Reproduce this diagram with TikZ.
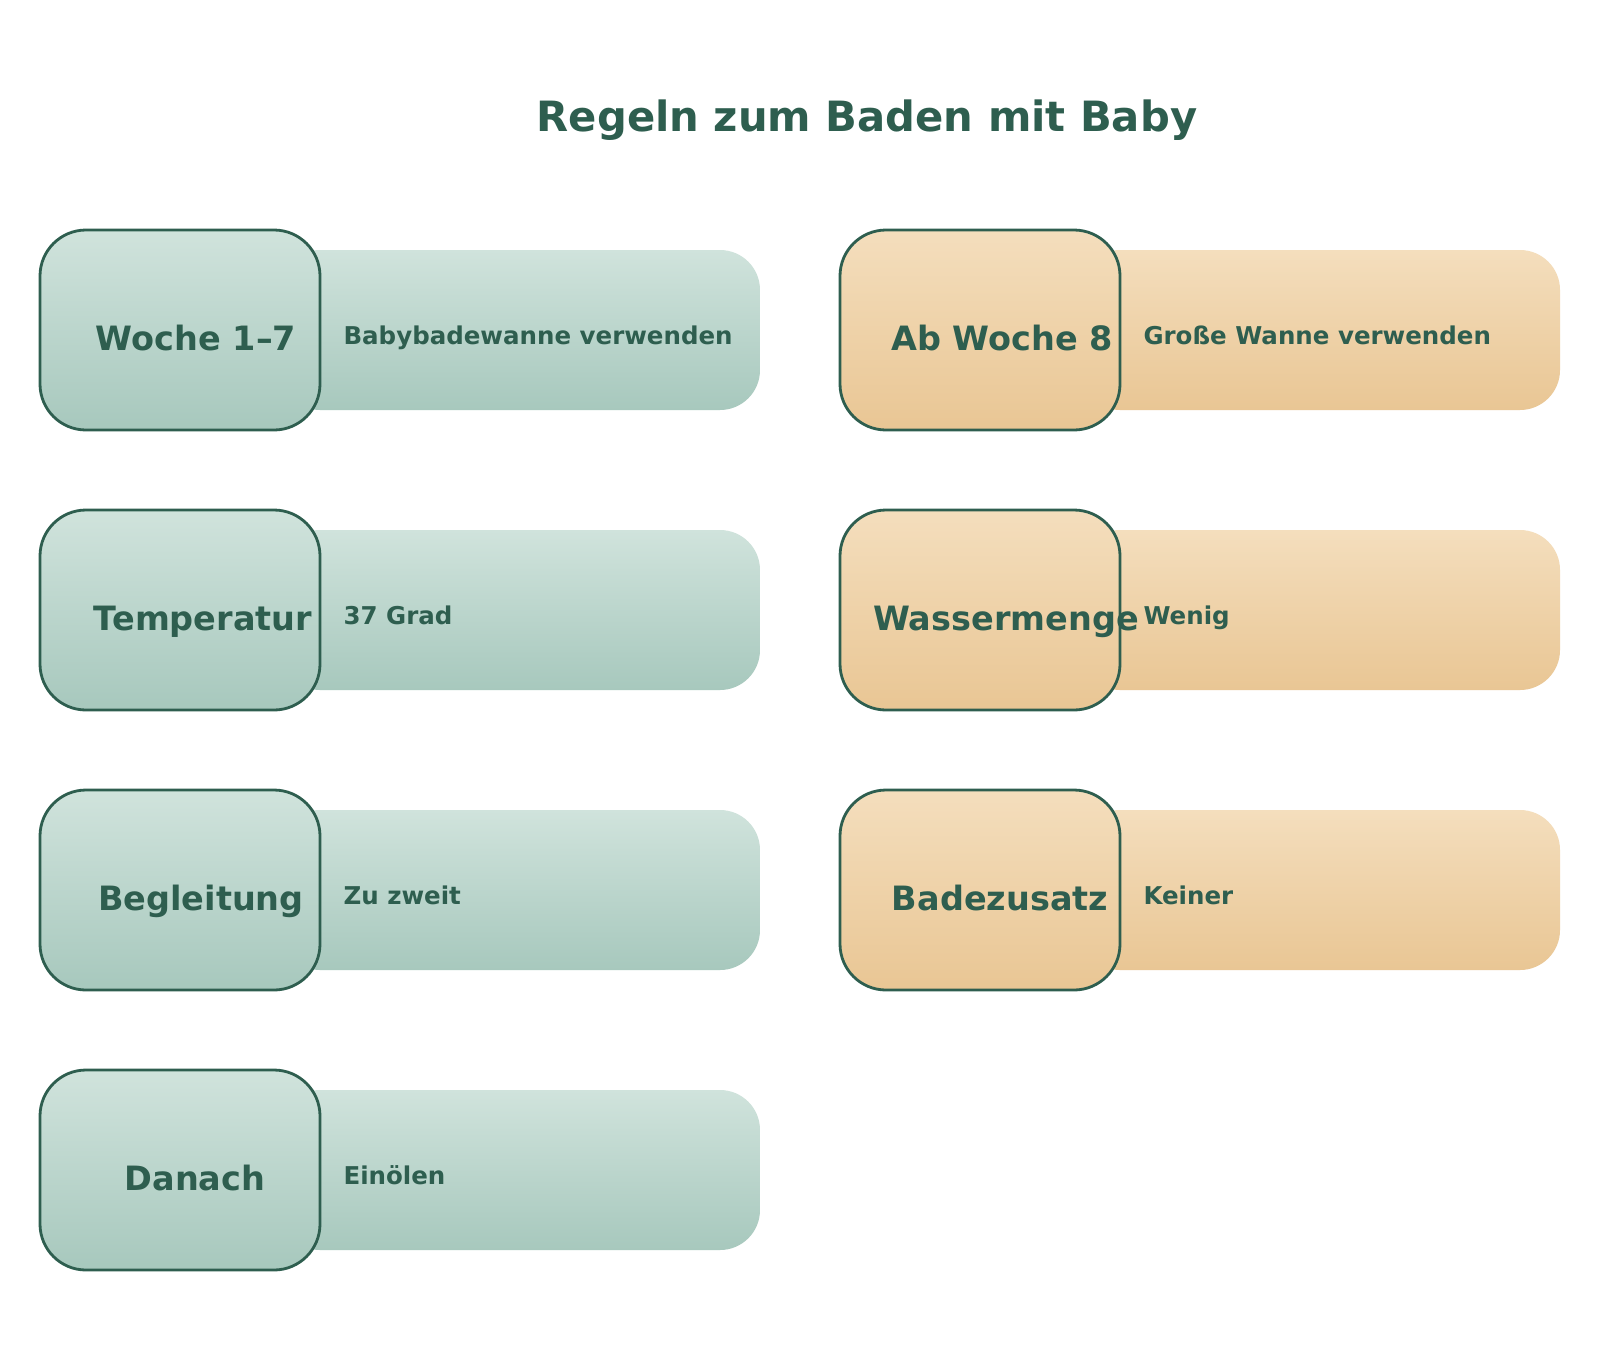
\documentclass[tikz,border=0pt]{standalone}
\usepackage{fontspec}
\setmainfont{DejaVu Sans}
\usepackage{tikz}
\usetikzlibrary{positioning}
\definecolor{ink}{HTML}{2E5E4F}
\definecolor{tealtop}{HTML}{D0E3DC}
\definecolor{tealbot}{HTML}{A7C8BD}
\definecolor{sandtop}{HTML}{F4DEBD}
\definecolor{sandbot}{HTML}{E9C694}
\tikzset{keybox/.style={rectangle, rounded corners=46pt, draw=ink, line width=2.8pt,
                        minimum width=280pt, minimum height=200pt, inner sep=0pt},
         valbox/.style={rectangle, rounded corners=40pt,
                        minimum width=480pt, minimum height=160pt, inner sep=0pt},
         teal/.style={top color=tealtop, bottom color=tealbot},
         sand/.style={top color=sandtop, bottom color=sandbot},
         keytext/.style={anchor=base, text=ink, font=\bfseries\fontsize{33.5}{40}\selectfont},
         valtext/.style={anchor=base west, text=ink, font=\bfseries\fontsize{24.5}{30}\selectfont}
}
\begin{document}
\begin{tikzpicture}[x=1pt,y=-1pt]
    \useasboundingbox[fill=white] (0,0) rectangle (1600,1350);
    \node[anchor=base, text=ink, font=\bfseries\fontsize{41.7}{48}\selectfont] (title) at (867,131) {Regeln zum Baden mit Baby};

    % left column
    \node[valbox,teal] (v1) at (520,330)  {};
    \node[keybox,teal] (k1) at (180,330)  {};
    \node[keytext] (k1t) at (196,350) {Woche 1–7};
    \node[valtext] (v1t) at (340,344) {Babybadewanne verwenden};

    \node[valbox,teal] (v2) at (520,610)  {};
    \node[keybox,teal] (k2) at (180,610)  {};
    \node[keytext] (k2t) at (203,630) {Temperatur};
    \node[valtext] (v2t) at (340,624) {37 Grad};

    \node[valbox,teal] (v3) at (520,890)  {};
    \node[keybox,teal] (k3) at (180,890)  {};
    \node[keytext] (k3t) at (201,910) {Begleitung};
    \node[valtext] (v3t) at (340,904) {Zu zweit};

    \node[valbox,teal] (v4) at (520,1170) {};
    \node[keybox,teal] (k4) at (180,1170) {};
    \node[keytext] (k4t) at (195,1190) {Danach};
    \node[valtext] (v4t) at (340,1184) {Einölen};

    % right column
    \node[valbox,sand] (v5) at (1320,330) {};
    \node[keybox,sand] (k5) at (980,330)  {};
    \node[keytext] (k5t) at (1002,350) {Ab Woche 8};
    \node[valtext] (v5t) at (1140,344) {Große Wanne verwenden};

    \node[valbox,sand] (v6) at (1320,610) {};
    \node[keybox,sand] (k6) at (980,610)  {};
    \node[keytext] (k6t) at (1006,630) {Wassermenge};
    \node[valtext] (v6t) at (1140,624) {Wenig};

    \node[valbox,sand] (v7) at (1320,890) {};
    \node[keybox,sand] (k7) at (980,890)  {};
    \node[keytext] (k7t) at (1000,910) {Badezusatz};
    \node[valtext] (v7t) at (1140,904) {Keiner};
\end{tikzpicture}
\end{document}
